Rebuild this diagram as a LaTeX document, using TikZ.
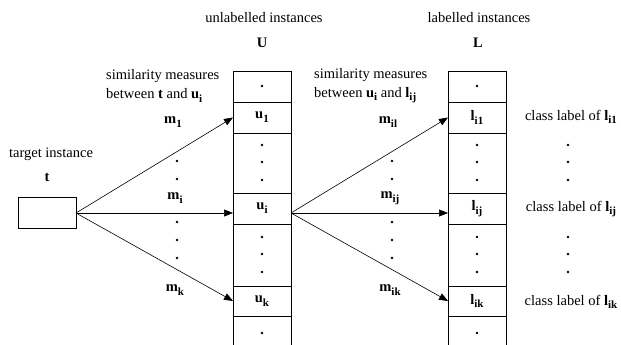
\documentclass[tikz,border=0pt]{standalone}
\usepackage{fontspec}
\setmainfont{Liberation Serif}
\usetikzlibrary{arrows.meta}
\newcommand\bsub[2]{\textbf{#1}\raisebox{-0.55ex}{\fontsize{11}{11}\selectfont\bfseries #2}}
\begin{document}
\begin{tikzpicture}[x=1pt,y=-1pt,
  txt/.style={font=\fontsize{14.5}{18.5}\selectfont, inner sep=0pt},
  cell/.style={draw, line width=0.8pt, minimum width=58pt, inner sep=0pt, outer sep=0pt, font=\fontsize{14.5}{18.5}\selectfont},
  arr/.style={line width=0.6pt, -{Triangle[length=9pt,width=7pt]}}]
\useasboundingbox (0,0) rectangle (621,345);
\fill[white] (0,0) rectangle (621,345);
% U column
\node[cell, minimum height=31pt] (u0) at (262,86.5) {};
\node[cell, minimum height=31pt] (u1) at (262,117.5) {\bsub{u}{1}};
\node[cell, minimum height=60pt] (ud1) at (262,163) {};
\node[cell, minimum height=31pt] (ui) at (262,208.5) {\bsub{u}{i}};
\node[cell, minimum height=62pt] (ud2) at (262,255) {};
\node[cell, minimum height=30pt] (uk) at (262,301) {\bsub{u}{k}};
\node[cell, minimum height=34pt] (ue) at (262,333) {};
% L column
\node[cell, minimum height=31pt] (l0) at (477,86.5) {};
\node[cell, minimum height=31pt] (l1) at (477,117.5) {\bsub{l}{i1}};
\node[cell, minimum height=60pt] (ld1) at (477,163) {};
\node[cell, minimum height=31pt] (lj) at (477,208.5) {\bsub{l}{ij}};
\node[cell, minimum height=62pt] (ld2) at (477,255) {};
\node[cell, minimum height=30pt] (lk) at (477,301) {\bsub{l}{ik}};
\node[cell, minimum height=34pt] (le) at (477,333) {};
% target
\node[draw, line width=0.8pt, minimum width=58pt, minimum height=31pt, inner sep=0pt, outer sep=0pt] (t) at (47,213) {};
\node[txt] (tl) at (51,154) {target instance};
\node[txt] (tt) at (47,177) {\textbf{t}};
% headers
\node[txt] (hu) at (264,18) {unlabelled instances};
\node[txt] (hU) at (262,43) {\textbf{U}};
\node[txt] (hl) at (479,18) {labelled instances};
\node[txt] (hL) at (478,43) {\textbf{L}};
% similarity texts
\node[txt, anchor=west, align=left] (s1) at (106,86) {similarity measures\\between \textbf{t} and \bsub{u}{i}};
\node[txt, anchor=west, align=left] (s2) at (314,86) {similarity measures\\between \bsub{u}{i} and \bsub{l}{ij}};
% m labels
\node[txt] (m1) at (173,122) {\bsub{m}{1}};
\node[txt] (mi) at (175,198) {\bsub{m}{i}};
\node[txt] (mk) at (175,290) {\bsub{m}{k}};
\node[txt] (mil) at (388,122) {\bsub{m}{il}};
\node[txt] (mij) at (390,198) {\bsub{m}{ij}};
\node[txt] (mik) at (390,290) {\bsub{m}{ik}};
% class labels
\node[txt] (c1) at (571,117) {class label of \bsub{l}{i1}};
\node[txt] (cj) at (571,209) {class label of \bsub{l}{ij}};
\node[txt] (ck) at (571,302) {class label of \bsub{l}{ik}};
% arrows
\coordinate (tu) at (t.east -| ui.west);
\coordinate (uo) at (t.east -| ui.east);
\coordinate (ul) at (t.east -| lj.west);
\draw[arr] (t.east) -- (u1.west);
\draw[arr] (t.east) -- (tu);
\draw[arr] (t.east) -- (uk.west);
\draw[arr] (uo) -- (l1.west);
\draw[arr] (uo) -- (ul);
\draw[arr] (uo) -- (lk.west);
% dots
\foreach \y in {161,179,222,240,258} {\fill (177,\y) circle (1.4pt); \fill (392,\y) circle (1.4pt);}
\foreach \y in {86,145,162,180,237,254,272,333} {\fill (262,\y) circle (1.4pt); \fill (477,\y) circle (1.4pt);}
\foreach \y in {145,162,180,237,254,272} {\fill (568,\y) circle (1.4pt);}
\end{tikzpicture}
\end{document}
